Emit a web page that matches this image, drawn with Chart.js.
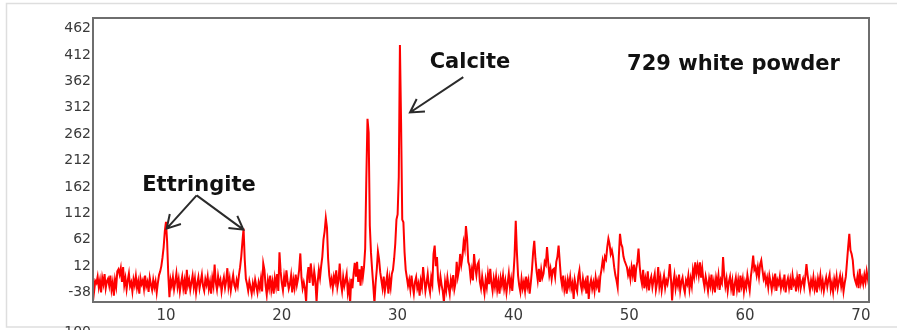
<!DOCTYPE html>
<html>
<head>
<meta charset="utf-8">
<script src="https://cdn.jsdelivr.net/npm/chart.js@4.4.1/dist/chart.umd.min.js"></script>
<style>
  html, body { margin: 0; padding: 0; background: #fff; }
  #wrap { position: relative; width: 897px; height: 330px; }
</style>
</head>
<body>
<div id="wrap"><canvas id="xrdChart"></canvas></div>
<script>
// scan grid in degrees 2-theta
const scanStart = 3.0;
const scanStep = 0.1;

// counts, one row per degree (d.0 ... d.9)
const intensity = [
  -14, -22, -8, -30, -18, -5, -26, -12, -35, -16,   // 3
  -20, -8, -28, -15, -38, -10, -22, -3, -30, -17,   // 4
  -12, -25, -6, -33, -19, -44, -14, -27, 2, 6,      // 5
  -4, 8, -18, 10, -24, -11, -32, -15, -2, -26,      // 6
  -19, -36, -13, -24, -7, -29, -17, -40, -11, -22,  // 7
  -15, -31, -6, -26, -18, -37, -10, -23, -33, -14,  // 8
  -28, -17, -38, -20, -5, 2, 12, 28, 48, 78,        // 9
  96, 58, -5, -47, -14, -25, -9, -32, -18, -2,      // 10
  -27, -13, -36, -20, -8, -30, -16, -41, 5, -24,    // 11
  -14, -33, -19, -6, -28, -12, -38, -21, -9, -30,   // 12
  -17, -4, -26, -35, -13, -23, -8, -31, -18, -40,   // 13
  -11, -25, 15, -19, -32, -7, -22, -14, -36, -20,   // 14
  -9, -29, -16, 8, -27, -12, -34, -18, -5, -24,     // 15
  -31, -15, -26, -5, 10, 30, 58, 83, 25, -12,       // 16
  -22, -35, -17, -28, -40, -21, -33, -14, -26, -38, // 17
  -19, -30, -12, -36, 17, 5, -24, -42, -15, -29,    // 18
  -6, -33, -18, -40, -11, -26, -3, -35, 38, 2,      // 19
  -20, -34, -9, -27, 4, -16, -31, -22, -6, -38,     // 20
  -14, -29, -4, -24, -12, 5, 36, -10, -30, -19,     // 21
  -30, -56, -8, 10, -20, 17, -5, -25, 2, -15,       // 22
  -56, -18, 5, -10, 12, 30, 62, 78, 103, 85,        // 23
  26, -5, -22, -12, -30, -8, -18, 4, -28, -14,      // 24
  17, -20, -35, -9, -26, -15, -3, -38, -24, -58,    // 25
  -12, -30, -2, 18, -8, 20, -18, 6, -25, 12,        // 26
  -9, 10, 45, 180, 291, 265, 89, 38, 5, -25,        // 27
  -58, -20, 5, 40, 25, 0, -15, -30, -8, -35,        // 28
  -20, -5, -40, -12, -28, -3, 5, 26, 55, 100,       // 29
  110, 180, 431, 284, 100, 95, 38, 5, -10, -25,     // 30
  -14, -32, -6, -25, -40, -18, -9, -30, -21, -44,   // 31
  -16, -28, 10, -12, -35, -20, -3, -26, -38, -10,   // 32
  -22, 35, 51, 12, 29, -15, -30, -8, -24, -36,      // 33
  -57, -18, -33, -10, -27, -41, -14, -25, -5, -32,  // 34
  -20, 20, -8, 5, 35, 15, 30, 57, 45, 88,           // 35
  64, 20, 13, -10, 5, -15, 35, 10, -5, 15,          // 36
  20, -18, -30, -8, -25, -40, -14, -28, -3, -22,    // 37
  7, -20, -35, -12, -27, -8, -33, -17, -40, -11,    // 38
  -24, -6, -30, -16, -38, -20, -2, -28, -13, -35,   // 39
  -5, 32, 98, 38, -6, -25, -37, -12, -30, -18,      // 40
  -35, -8, -27, -15, -40, -20, 5, 38, 60, 26,       // 41
  2, -15, 7, -18, 5, -10, -2, 20, 15, 48,           // 42
  20, -5, 7, -12, 5, 7, -8, 20, 30, 51,             // 43
  20, -10, -25, -6, -32, -18, -40, -14, -26, -9,    // 44
  -30, -20, -50, -15, -28, -36, -8, 4, -22, -33,    // 45
  -12, -27, -18, -40, -6, -50, -24, -14, -31, -19,  // 46
  -35, -10, -26, -16, -38, -8, 5, 22, 10, 30,       // 47
  25, 48, 64, 54, 35, 42, 30, 10, -5, -15,          // 48
  -28, 30, 73, 54, 48, 30, 22, 16, 10, -5,          // 49
  4, -12, 10, -5, 15, -18, 8, 20, 45, 12,           // 50
  -10, -22, 5, -30, -12, -25, 2, -34, -16, -8,      // 51
  -28, -14, -3, -33, -20, 10, -26, -11, -34, -18,   // 52
  -6, -29, -15, -22, -8, 16, -12, -53, -20, -5,     // 53
  -30, -14, -25, -4, -34, -18, -10, -28, -38, -15,  // 54
  -22, -6, -31, -12, -26, 5, -8, 19, -2, 12,        // 55
  -5, 19, -10, 8, -15, -28, -8, -20, -35, -12,      // 56
  -25, -4, -30, -17, -38, -10, -22, -5, -33, -14,   // 57
  -20, 29, -6, -26, -12, -35, -18, -8, -30, -16,    // 58
  -44, -22, -10, -32, -15, -38, -6, -25, -12, -36,  // 59
  -18, -28, -5, -20, -34, -8, 10, 32, 5, 10,        // 60
  -5, 10, -8, 15, 23, 5, -12, -4, -20, -10,         // 61
  -28, -6, -18, -32, -12, -24, -2, -35, -15, -22,   // 62
  -8, -30, -17, -26, -4, -38, -20, -11, -29, -14,   // 63
  -33, -6, -22, -16, -36, -10, -25, -3, -30, -19,   // 64
  -12, -27, -8, 16, -5, -20, -34, -15, -26, -9,     // 65
  -31, -18, -38, -12, -24, -6, -29, -16, -35, -21,  // 66
  -10, -27, -14, -4, -32, -20, -37, -13, -25, -8,   // 67
  -30, -17, -6, -26, -12, -36, -20, -8, 20, 48,     // 68
  73, 42, 35, 23, -5, -15, -22, -8, -30, 7,         // 69
  -20, -10, -22, -5, -18, 2, -12, -25, -8, -15,     // 70
  -18                                               // 71
];

const xTicks = [10, 20, 30, 40, 50, 60, 70];
const yTicks = [-38, 12, 62, 112, 162, 212, 262, 312, 362, 412, 462];

const points = intensity.map((v, i) => ({ x: +(scanStart + i * scanStep).toFixed(1), y: v }));

function drawArrow(ctx, x0, y0, x1, y1) {
  const ang = Math.atan2(y1 - y0, x1 - x0);
  const len = 15, spread = Math.PI / 6;
  ctx.beginPath();
  ctx.moveTo(x0, y0);
  ctx.lineTo(x1, y1);
  ctx.moveTo(x1 - len * Math.cos(ang - spread), y1 - len * Math.sin(ang - spread));
  ctx.lineTo(x1, y1);
  ctx.lineTo(x1 - len * Math.cos(ang + spread), y1 - len * Math.sin(ang + spread));
  ctx.stroke();
}

// frame, plot border, phase labels and arrows
const overlay = {
  id: 'overlay',
  afterDraw(chart) {
    const { ctx, chartArea: a, scales: { x, y } } = chart;
    const px = v => x.getPixelForValue(v);
    const py = v => y.getPixelForValue(v);
    ctx.save();

    ctx.strokeStyle = '#dedede';
    ctx.lineWidth = 1.5;
    ctx.strokeRect(6.5, 3.5, 1000, 323.5);

    ctx.strokeStyle = '#6e6e6e';
    ctx.lineWidth = 2;
    ctx.strokeRect(a.left, a.top, a.right - a.left, a.bottom - a.top);

    ctx.fillStyle = '#3a3a3a';
    ctx.font = '14px "DejaVu Sans"';
    ctx.textAlign = 'right';
    ctx.textBaseline = 'top';
    ctx.fillText('100', 91, 325);

    ctx.fillStyle = '#111';
    ctx.font = 'bold 21px "DejaVu Sans"';
    ctx.textAlign = 'center';
    ctx.textBaseline = 'middle';
    ctx.fillText('Calcite', px(36.25), py(397));
    ctx.fillText('729 white powder', px(59.0), py(394));
    ctx.fillText('Ettringite', px(12.85), py(164));

    ctx.strokeStyle = '#2b2b2b';
    ctx.lineWidth = 2;
    drawArrow(ctx, px(12.65), py(146), px(10.06), py(83));
    drawArrow(ctx, px(12.65), py(146), px(16.68), py(81));
    drawArrow(ctx, px(35.67), py(370), px(31.07), py(303));
    ctx.restore();
  }
};

new Chart(document.getElementById('xrdChart').getContext('2d'), {
  type: 'line',
  data: {
    datasets: [{
      data: points,
      borderColor: 'rgb(255, 0, 0)',
      borderWidth: 2,
      pointRadius: 0,
      tension: 0,
      fill: false,
      clip: 0
    }]
  },
  options: {
    responsive: true,
    maintainAspectRatio: false,
    animation: false,
    events: [],
    layout: { padding: { top: 18, right: 28, left: 0, bottom: 0 } },
    scales: {
      x: {
        type: 'linear',
        min: 3.7,
        max: 70.7,
        grid: { display: false, drawTicks: false },
        border: { display: false },
        afterBuildTicks: s => { s.ticks = xTicks.map(v => ({ value: v })); },
        afterFit: s => { s.height = 28; },
        ticks: {
          autoSkip: false,
          maxRotation: 0,
          padding: 5,
          color: '#3a3a3a',
          font: { family: '"DejaVu Sans"', size: 15 }
        }
      },
      y: {
        min: -56,
        max: 482,
        grid: { display: false, drawTicks: false },
        border: { display: false },
        afterBuildTicks: s => { s.ticks = yTicks.map(v => ({ value: v })); },
        afterFit: s => { s.width = 93; },
        ticks: {
          autoSkip: false,
          padding: 2,
          color: '#3a3a3a',
          font: { family: '"DejaVu Sans"', size: 14 }
        }
      }
    },
    plugins: {
      legend: { display: false },
      tooltip: { enabled: false }
    }
  },
  plugins: [overlay]
});
</script>
</body>
</html>
